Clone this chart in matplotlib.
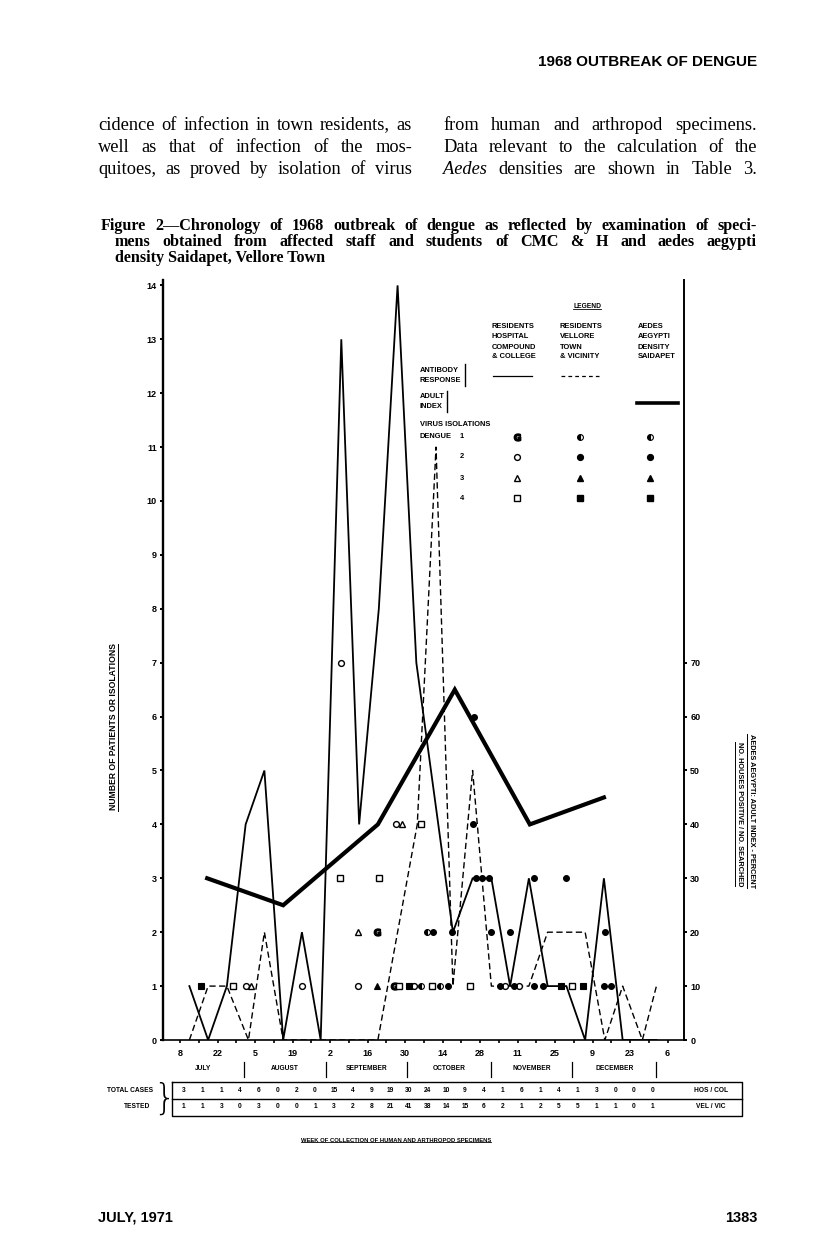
import matplotlib
matplotlib.use("Agg")
import matplotlib.pyplot as plt
from matplotlib.lines import Line2D
import matplotlib.transforms as mtransforms

plt.rcParams['font.family'] = ['Liberation Sans', 'DejaVu Sans']

W, H = 816, 1247

# ---------------- data ----------------
tick_weeks = list(range(0, 27, 2))
tick_labels = ['8', '22', '5', '19', '2', '16', '30', '14', '28', '11', '25', '9', '23', '6']
months = ['JULY', 'AUGUST', 'SEPTEMBER', 'OCTOBER', 'NOVEMBER', 'DECEMBER']
month_edges = [-0.9, 3.4, 7.8, 12.1, 16.6, 20.9, 25.4]

hos_col_tested = [3, 1, 1, 4, 6, 0, 2, 0, 15, 4, 9, 19, 30, 24, 10, 9, 4, 1, 6, 1, 4, 1, 3, 0, 0, 0]
vel_vic_tested = [1, 1, 3, 0, 3, 0, 0, 1, 3, 2, 8, 21, 41, 38, 14, 15, 6, 2, 1, 2, 5, 5, 1, 1, 0, 1]

# antibody response, residents hospital compound & college (solid)
hosp_weeks = [0.5, 1.5, 2.5, 3.5, 4.5, 5.5, 6.5, 7.5, 8.6, 9.55, 10.6, 11.6, 12.6,
              14.55, 15.6, 16.6, 17.6, 18.6, 19.6, 20.6, 21.6, 22.6, 23.6, 25.4]
hosp_antibody = [1, 0, 1, 4, 5, 0, 2, 0, 13, 4, 8, 14, 7, 2, 3, 3, 1, 3, 1, 1, 0, 3, 0, 0]

# antibody response, residents Vellore town & vicinity (dashed)
vel_weeks = [0.5, 1.5, 2.5, 3.65, 4.5, 5.5, 10.55, 12.65, 13.65, 14.55, 15.6, 16.6,
             18.6, 19.6, 21.6, 22.65, 23.6, 24.65, 25.4]
vel_antibody = [0, 1, 1, 0, 2, 0, 0, 4, 11, 1, 5, 1, 1, 2, 2, 0, 1, 0, 1]

# Aedes aegypti adult index, percent (thick, right axis)
aedes_weeks = [1.45, 5.5, 10.55, 14.65, 18.65, 22.6]
aedes_index = [30, 25, 40, 65, 40, 45]

# virus isolations: hospital residents (open symbols)
hosp_d1_w = [10.5, 11.4]
hosp_d1_n = [2, 1]
hosp_d2_w = [3.5, 6.5, 8.6, 9.5, 11.5, 12.5, 17.35, 18.1]
hosp_d2_n = [1, 1, 7, 1, 4, 1, 1, 1]
hosp_d3_w = [3.8, 9.5, 11.85]
hosp_d3_n = [1, 2, 4]
hosp_d4_w = [2.8, 8.55, 10.6, 11.7, 12.85, 13.45, 15.45, 20.9]
hosp_d4_n = [1, 3, 3, 1, 4, 1, 1, 1]
# virus isolations: Vellore town & Aedes (filled symbols)
vel_d1_w = [12.83, 13.87, 13.15]
vel_d1_n = [1, 1, 2]
vel_d2_w = [14.3, 17.05, 17.8, 18.85, 19.35, 22.6, 23.0, 13.5, 14.5, 16.6, 17.6, 22.65,
            15.8, 16.1, 16.45, 18.85, 20.6, 15.6, 15.65]
vel_d2_n = [1, 1, 1, 1, 1, 1, 1, 2, 2, 2, 2, 2, 3, 3, 3, 3, 3, 4, 6]
vel_d3_w = [10.5]
vel_d3_n = [1]
vel_d4_w = [1.1, 12.2, 20.3, 21.5]
vel_d4_n = [1, 1, 1, 1]

# ---------------- figure ----------------
fig = plt.figure(figsize=(W / 100, H / 100), dpi=100)
R = fig.canvas.get_renderer()


def fx(px):
    return px / W


def fy(py):
    return 1 - py / H


def justify(words, x0, x1, y, styles=None, **kw):
    ts = []
    for i, w in enumerate(words):
        st = styles[i] if styles else 'normal'
        ts.append(fig.text(0, fy(y), w, style=st, ha='left', va='center', **kw))
    widths = [t.get_window_extent(R).width for t in ts]
    gap = (x1 - x0 - sum(widths)) / max(len(ts) - 1, 1)
    x = x0
    for t, wd in zip(ts, widths):
        t.set_x(fx(x))
        x += wd + gap


ax = fig.add_axes([fx(163), fy(1040), (684 - 163) / W, (1040 - 280) / H])
ax2 = ax.twinx()

ax.set_xlim(-0.906, 26.87)
ax.set_ylim(0, 14.1)
ax2.set_ylim(0, 141)

for s in ['top', 'right']:
    ax.spines[s].set_visible(False)
for s in ['top', 'left', 'bottom']:
    ax2.spines[s].set_visible(False)
ax.spines['left'].set_linewidth(1.7)
ax.spines['bottom'].set_linewidth(1.2)
ax2.spines['right'].set_linewidth(1.4)

tfont = dict(fontsize=6.5, fontweight='bold')
ax.set_yticks(range(15))
ax.set_yticklabels([str(v) for v in range(15)], **tfont)
ax.tick_params(axis='y', direction='out', length=2.5, width=1.4, pad=2)
ax.set_xticks(tick_weeks)
ax.set_xticklabels(tick_labels, **tfont)
ax.set_xticks(range(27), minor=True)
ax.tick_params(axis='x', which='both', direction='out', length=2.5, width=1.2, pad=4)
ax2.set_yticks(range(0, 71, 10))
ax2.set_yticklabels([str(v) for v in range(0, 71, 10)], **tfont)
ax2.tick_params(axis='y', direction='out', length=2.5, width=1.4, pad=2)

# lines
ax.plot(hosp_weeks, hosp_antibody, color='black', lw=1.3, solid_joinstyle='miter', zorder=3)
ax.plot(vel_weeks, vel_antibody, color='black', lw=1.0, ls=(0, (4.5, 2.5)), zorder=3)
ax2.plot(aedes_weeks, aedes_index, color='black', lw=3.0, solid_joinstyle='miter', zorder=3)

ms = 4.2
op = dict(ls='none', color='black', mfc='white', mec='black', mew=1.0, ms=ms, zorder=4)
fp = dict(ls='none', color='black', mfc='black', mec='black', mew=0.8, ms=ms, zorder=4)
ax.plot(hosp_d1_w, hosp_d1_n, marker='$\\mathbf{G}$', ls='none', color='black', ms=5, zorder=4)
ax.plot(hosp_d2_w, hosp_d2_n, marker='o', **op)
ax.plot(hosp_d3_w, hosp_d3_n, marker='^', **op)
ax.plot(hosp_d4_w, hosp_d4_n, marker='s', **op)
ax.plot(vel_d1_w, vel_d1_n, marker='o', fillstyle='left', markerfacecoloralt='white', ls='none',
        color='black', mec='black', mew=0.8, ms=ms, zorder=4)
ax.plot(vel_d2_w, vel_d2_n, marker='o', **fp)
ax.plot(vel_d3_w, vel_d3_n, marker='^', **fp)
ax.plot(vel_d4_w, vel_d4_n, marker='s', **fp)

# ---------------- legend (inside plot) ----------------
LFS = 5.4
lf = dict(fontsize=LFS, fontweight='bold', va='center', ha='left')
underline_h = []
t = fig.text(fx(587), fy(306), 'LEGEND', fontsize=4.8, fontweight='bold', ha='center', va='center')
underline_h.append(t)
headers = [(492, ['RESIDENTS', 'HOSPITAL', 'COMPOUND', '& COLLEGE']),
           (560, ['RESIDENTS', 'VELLORE', 'TOWN', '& VICINITY']),
           (638, ['AEDES', 'AEGYPTI', 'DENSITY', 'SAIDAPET'])]
for x0, lines in headers:
    for i, s in enumerate(lines):
        fig.text(fx(x0), fy(327 + 10 * i), s, **lf)
fig.text(fx(420), fy(370), 'ANTIBODY', **lf)
fig.text(fx(420), fy(380), 'RESPONSE', **lf)
fig.add_artist(Line2D([fx(465), fx(465)], [fy(364), fy(386)], color='black', lw=1.0))
fig.add_artist(Line2D([fx(493), fx(532)], [fy(376), fy(376)], color='black', lw=0.9))
fig.add_artist(Line2D([fx(561), fx(599)], [fy(376), fy(376)], color='black', lw=0.9, ls=(0, (3, 2.5))))
fig.text(fx(420), fy(397), 'ADULT', **lf)
fig.text(fx(420), fy(406), 'INDEX', **lf)
fig.add_artist(Line2D([fx(447), fx(447)], [fy(391), fy(412)], color='black', lw=1.0))
fig.add_artist(Line2D([fx(637), fx(678)], [fy(403), fy(403)], color='black', lw=2.6))
fig.text(fx(420), fy(425), 'VIRUS ISOLATIONS', **lf)
fig.text(fx(420), fy(437), 'DENGUE', **lf)
row_y = [437, 457, 478, 498]
for i, yy in enumerate(row_y):
    fig.text(fx(462), fy(yy), str(i + 1), fontsize=LFS, fontweight='bold', ha='center', va='center')
leg_markers = [
    (dict(marker='$\\mathbf{G}$', color='black', ms=5),
     dict(marker='o', fillstyle='left', markerfacecoloralt='white', color='black', mec='black', mew=0.8, ms=ms)),
    (dict(marker='o', mfc='white', mec='black', mew=1.0, ms=ms),
     dict(marker='o', mfc='black', mec='black', ms=ms)),
    (dict(marker='^', mfc='white', mec='black', mew=1.0, ms=ms),
     dict(marker='^', mfc='black', mec='black', ms=ms)),
    (dict(marker='s', mfc='white', mec='black', mew=1.0, ms=ms),
     dict(marker='s', mfc='black', mec='black', ms=ms)),
]
for yy, (openm, fillm) in zip(row_y, leg_markers):
    fig.add_artist(Line2D([fx(517)], [fy(yy)], ls='none', **openm))
    fig.add_artist(Line2D([fx(580)], [fy(yy)], ls='none', **fillm))
    fig.add_artist(Line2D([fx(650)], [fy(yy)], ls='none', **fillm))

# ---------------- axis titles ----------------
yl = fig.text(fx(113), fy(727), 'NUMBER OF PATIENTS OR ISOLATIONS', rotation=90,
              fontsize=6.2, fontweight='bold', ha='center', va='center')
yr1 = fig.text(fx(751), fy(811), 'AEDES AEGYPTI: ADULT INDEX - PERCENT', rotation=-90,
               fontsize=5.3, fontweight='bold', ha='center', va='center')
yr2 = fig.text(fx(739), fy(814), 'NO. HOUSES POSITIVE / NO. SEARCHED', rotation=-90,
               fontsize=5.3, fontweight='bold', ha='center', va='center')

# ---------------- months and table ----------------
bt = mtransforms.blended_transform_factory(ax.transData, fig.transFigure)
for i, m in enumerate(months):
    xc = (month_edges[i] + month_edges[i + 1]) / 2
    fig.text(xc, fy(1069), m, transform=bt, fontsize=4.8, fontweight='bold', ha='center', va='center')
for e in month_edges[1:]:
    fig.add_artist(Line2D([e, e], [fy(1062), fy(1077)], transform=bt, color='black', lw=0.9))

fig.add_artist(Line2D([fx(172), fx(742), fx(742), fx(172), fx(172)],
                      [fy(1082), fy(1082), fy(1116), fy(1116), fy(1082)], color='black', lw=1.0))
fig.add_artist(Line2D([fx(172), fx(742)], [fy(1099), fy(1099)], color='black', lw=1.0))
for i, (a, b) in enumerate(zip(hos_col_tested, vel_vic_tested)):
    fig.text(i + 0.2, fy(1091), str(a), transform=bt, fontsize=4.8, fontweight='bold', ha='center', va='center')
    fig.text(i + 0.2, fy(1107), str(b), transform=bt, fontsize=4.8, fontweight='bold', ha='center', va='center')
fig.text(fx(711), fy(1091), 'HOS / COL', fontsize=4.8, fontweight='bold', ha='center', va='center')
fig.text(fx(711), fy(1107), 'VEL / VIC', fontsize=4.8, fontweight='bold', ha='center', va='center')
fig.text(fx(130), fy(1091), 'TOTAL CASES', fontsize=4.8, fontweight='bold', ha='center', va='center')
fig.text(fx(137), fy(1106), 'TESTED', fontsize=4.8, fontweight='bold', ha='center', va='center')
fig.text(fx(164), fy(1099), '}', fontsize=25, family='DejaVu Sans', fontweight='ultralight',
         ha='center', va='center')
wk = fig.text(fx(396), fy(1140), 'WEEK OF COLLECTION OF HUMAN AND ARTHROPOD SPECIMENS',
              fontsize=4.2, fontweight='bold', ha='center', va='center')
underline_h.append(wk)

# ---------------- page text ----------------
fig.text(fx(757), fy(62), '1968 OUTBREAK OF DENGUE', fontsize=11, fontweight='bold',
         ha='right', va='center')
serif = ['Liberation Serif', 'DejaVu Serif']
body_l = ['cidence of infection in town residents, as',
          'well as that of infection of the mos-',
          'quitoes, as proved by isolation of virus']
body_r = ['from human and arthropod specimens.',
          'Data relevant to the calculation of the',
          'Aedes densities are shown in Table 3.']
for i, s in enumerate(body_l):
    justify(s.split(), 98, 412, 125 + 22 * i, family=serif, fontsize=13.2)
for i, s in enumerate(body_r):
    words = s.split()
    styles = ['italic' if w == 'Aedes' else 'normal' for w in words]
    justify(words, 443, 757, 125 + 22 * i, styles=styles, family=serif, fontsize=13.2)

cap = ['Figure 2\u2014Chronology of 1968 outbreak of dengue as reflected by examination of speci-',
       'mens obtained from affected staff and students of CMC & H and aedes aegypti',
       'density Saidapet, Vellore Town']
justify(cap[0].split(), 101, 757, 225.5, family=serif, fontweight='bold', fontsize=11.6)
justify(cap[1].split(), 115, 757, 242, family=serif, fontweight='bold', fontsize=11.6)
fig.text(fx(115), fy(258.5), cap[2], family=serif, fontweight='bold', fontsize=11.6,
         ha='left', va='center')

fig.text(fx(98), fy(1218), 'JULY, 1971', fontsize=10.5, fontweight='bold', ha='left', va='center')
fig.text(fx(757), fy(1218), '1383', fontsize=10.5, fontweight='bold', ha='right', va='center')

# ---------------- underlines ----------------
fig.canvas.draw()
r = fig.canvas.get_renderer()
for t in underline_h:
    bb = t.get_window_extent(r)
    y0 = bb.y0 + 0.5
    fig.add_artist(Line2D([bb.x0 / W, bb.x1 / W], [y0 / H, y0 / H], color='black', lw=0.6))
bb = yl.get_window_extent(r)
fig.add_artist(Line2D([(bb.x1 + 0.5) / W] * 2, [bb.y0 / H, bb.y1 / H], color='black', lw=0.7))
for t in (yr1, yr2):
    bb = t.get_window_extent(r)
    fig.add_artist(Line2D([(bb.x0 - 0.5) / W] * 2, [bb.y0 / H, bb.y1 / H], color='black', lw=0.7))

fig.savefig('out.png', dpi=100)
